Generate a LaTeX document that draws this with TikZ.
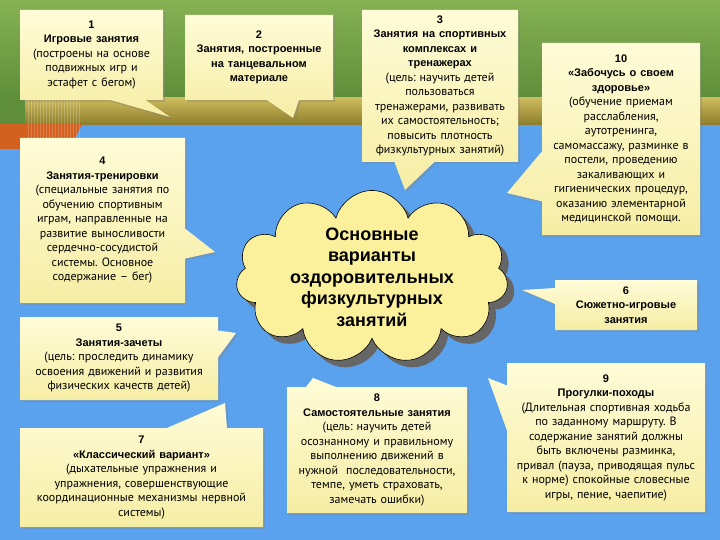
\documentclass[tikz,border=0pt]{standalone}
\usepackage{fontspec}
\setmainfont{PT Sans}
\newfontfamily\headfont{Liberation Sans}
\usetikzlibrary{shapes.callouts,shapes.symbols,shadows}
\frenchspacing

\definecolor{skyblue}{HTML}{5AA2EE}
\definecolor{greentop}{HTML}{86B254}
\definecolor{greenbot}{HTML}{5F8E3A}
\definecolor{olivetop}{HTML}{CDBB5E}
\definecolor{olivebot}{HTML}{8C7C2A}
\definecolor{rustorange}{HTML}{D2601E}
\definecolor{notetop}{HTML}{FFFCD8}
\definecolor{notebot}{HTML}{F6EDA4}
\definecolor{cloudfill}{HTML}{FBF19C}

\newcommand{\boxhead}[1]{{\headfont\bfseries\fontsize{11}{14.5}\selectfont #1}}

\tikzset{
  notebox/.style={rectangle callout, inner sep=0pt, align=center,
    top color=notetop, bottom color=notebot,
    drop shadow={shadow xshift=2pt, shadow yshift=-2pt, opacity=0.35},
    font=\fontsize{12}{14.5}\selectfont},
  corecloud/.style={cloud, cloud puffs=11, aspect=1.8, draw=black, line width=0.6pt,
    fill=cloudfill, inner sep=-4pt, align=center,
    font=\headfont\bfseries\fontsize{18}{21.5}\selectfont,
    drop shadow={shadow xshift=7pt, shadow yshift=-7pt, fill=gray!80!black, opacity=1}}
}

\begin{document}
\begin{tikzpicture}[x=1pt,y=-1pt]
  \useasboundingbox (0,0) rectangle (720,540);

  % background of the slide
  \fill[skyblue] (0,0) rectangle (720,540);
  \shade[top color=greentop, bottom color=greenbot] (0,0) rectangle (720,98);
  \shade[top color=olivetop, bottom color=olivebot] (25,98) rectangle (720,125);
  \fill[greenbot] (0,98) rectangle (25,124);
  \fill[rustorange] (0,124) -- (82,124) -- (70,149) -- (0,149) -- cycle;
  \foreach \x in {28,31,...,79}
    \draw[white, opacity=0.2] (\x,100) -- (\x,147);

  % tips of the callouts
  \coordinate (t1) at (170,117);
  \coordinate (t2) at (293,118);
  \coordinate (t3) at (405,190);
  \coordinate (t10) at (507,193);
  \coordinate (t4) at (215,252);
  \coordinate (t5) at (236,333);
  \coordinate (t7) at (225,403);
  \coordinate (t8) at (313,378);
  \coordinate (t9) at (488,378);
  \coordinate (t6) at (522,290);

  % centre
  \node[corecloud, minimum width=272pt, minimum height=155pt] (core) at (372,277)
    {Основные\\варианты\\оздоровительных\\физкультурных\\занятий};

  % callouts
  \node[notebox, minimum width=143pt, minimum height=90pt, text width=139pt,
    callout absolute pointer={(t1)}, callout pointer width=35pt] (n1) at (91.5,55)
    {\boxhead{1}\\\boxhead{Игровые занятия}\\(построены на основе\\подвижных игр и\\эстафет с бегом)};
  \node[notebox, minimum width=148pt, minimum height=85pt, text width=144pt,
    callout absolute pointer={(t2)}, callout pointer width=32pt] (n2) at (259,57.5)
    {\boxhead{2}\\\boxhead{Занятия, построенные}\\\boxhead{на танцевальном}\\\boxhead{материале}};
  \node[notebox, minimum width=156pt, minimum height=152pt, text width=152pt,
    callout absolute pointer={(t3)}, callout pointer width=40pt] (n3) at (440,86)
    {\boxhead{3}\\\boxhead{Занятия на спортивных}\\\boxhead{комплексах и}\\\boxhead{тренажерах}\\(цель: научить детей\\пользоваться\\тренажерами, развивать\\их самостоятельность;\\повысить плотность\\физкультурных занятий)};
  \node[notebox, minimum width=158pt, minimum height=192pt, text width=154pt,
    callout absolute pointer={(t10)}, callout pointer width=50pt] (n10) at (621,139)
    {\boxhead{10}\\\boxhead{«Забочусь о своем}\\\boxhead{здоровье»}\\(обучение приемам\\расслабления,\\аутотренинга,\\самомассажу, разминке в\\постели, проведению\\закаливающих и\\гигиенических процедур,\\оказанию элементарной\\медицинской помощи.};
  \node[notebox, minimum width=165pt, minimum height=165pt, text width=161pt,
    callout absolute pointer={(t4)}, callout pointer width=30pt] (n4) at (102.5,220.5)
    {\boxhead{4}\\\boxhead{Занятия-тренировки}\\(специальные занятия по\\обучению спортивным\\играм, направленные на\\развитие выносливости\\сердечно-сосудистой\\системы. Основное\\содержание – бег)};
  \node[notebox, minimum width=198pt, minimum height=83pt, text width=194pt,
    callout absolute pointer={(t5)}, callout pointer width=27pt] (n5) at (119,358.5)
    {\boxhead{5}\\\boxhead{Занятия-зачеты}\\(цель: проследить динамику\\освоения движений и развития\\физических качеств детей)};
  \node[notebox, minimum width=243pt, minimum height=99pt, text width=239pt,
    callout absolute pointer={(t7)}, callout pointer width=60pt] (n7) at (141.5,477.5)
    {\boxhead{7}\\\boxhead{«Классический вариант»}\\(дыхательные упражнения и\\упражнения, совершенствующие\\координационные механизмы нервной\\системы)};
  \node[notebox, minimum width=180pt, minimum height=126pt, text width=176pt,
    callout absolute pointer={(t8)}, callout pointer width=30pt] (n8) at (377,450)
    {\boxhead{8}\\\boxhead{Самостоятельные занятия}\\(цель: научить детей\\осознанному и правильному\\выполнению движений в\\нужной\ \ последовательности,\\темпе, уметь страховать,\\замечать ошибки)};
  \node[notebox, minimum width=198pt, minimum height=149pt, text width=194pt,
    callout absolute pointer={(t9)}, callout pointer width=45pt] (n9) at (606,437.5)
    {\boxhead{9}\\\boxhead{Прогулки-походы}\\(Длительная спортивная ходьба\\по заданному маршруту. В\\содержание занятий должны\\быть включены разминка,\\привал (пауза, приводящая пульс\\к норме) спокойные словесные\\игры, пение, чаепитие)};
  \node[notebox, minimum width=142pt, minimum height=50pt, text width=138pt,
    callout absolute pointer={(t6)}, callout pointer width=16pt] (n6) at (626,305)
    {\boxhead{6}\\\boxhead{Сюжетно-игровые}\\\boxhead{занятия}};
\end{tikzpicture}
\end{document}
